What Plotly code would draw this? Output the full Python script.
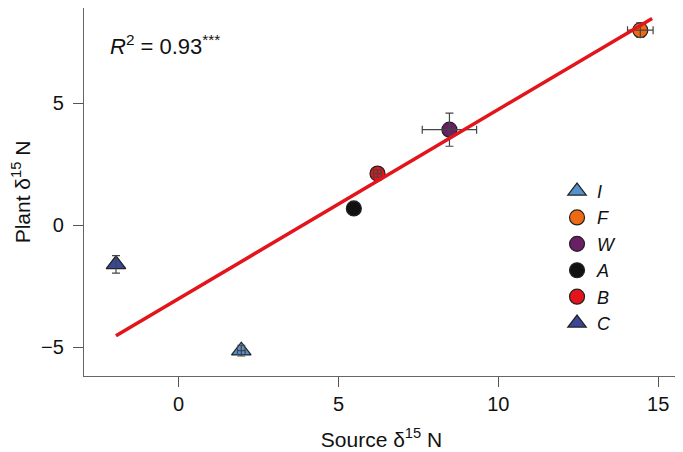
import plotly.graph_objects as go

names = ["I", "F", "W", "A", "B", "C"]
src = [1.96, 14.44, 8.47, 5.48, 6.22, -1.96]
plant = [-5.14, 8.0, 3.92, 0.69, 2.12, -1.6]
src_err = [0.12, 0.4, 0.85, 0.0, 0.12, 0.0]
plant_err = [0.22, 0.3, 0.68, 0.0, 0.15, 0.36]
colors = ["#5591cc", "#ee6a12", "#6a1e66", "#111111", "#e3151b", "#3a4796"]
symbols = ["triangle-up", "circle", "circle", "circle", "circle", "triangle-up"]
sizes = [17, 15, 15, 15, 15, 17]

fit_x = [-1.96, 14.81]
slope = 0.776
intercept = -3.01

FONT = "Liberation Sans, Arial, sans-serif"
fig = go.Figure()

for i, n in enumerate(names):
    fig.add_trace(go.Scatter(
        x=[src[i]], y=[plant[i]], mode="markers", name=f"<i>{n}</i>",
        legendgroup=n,
        marker=dict(color=colors[i], symbol=symbols[i], size=sizes[i],
                    line=dict(color="#222222", width=1.2)),
    ))
for i, n in enumerate(names):
    fig.add_trace(go.Scatter(
        x=[src[i]], y=[plant[i]], mode="markers", showlegend=False,
        marker=dict(size=1, opacity=0),
        error_x=dict(type="data", array=[src_err[i]], color="#444444", thickness=1.2, width=4, visible=src_err[i] > 0),
        error_y=dict(type="data", array=[plant_err[i]], color="#444444", thickness=1.2, width=4, visible=plant_err[i] > 0),
        hoverinfo="skip",
    ))

fig.add_trace(go.Scatter(
    x=fit_x, y=[slope * v + intercept for v in fit_x], mode="lines",
    line=dict(color="#e3151b", width=3.5), showlegend=False,
))

fig.add_annotation(
    x=0.04, y=0.90, xref="paper", yref="paper", xanchor="left", yanchor="middle",
    text="<i>R</i><sup>2</sup> = 0.93<sup>***</sup>", showarrow=False,
    font=dict(family=FONT, size=22, color="#111111"),
)

axis_common = dict(
    showgrid=False, zeroline=False, showline=True, mirror=True, automargin=False,
    linecolor="#666666", linewidth=1.2, ticks="outside", ticklen=10,
    tickcolor="#555555", tickwidth=1.2,
    tickfont=dict(family=FONT, size=20, color="#111111"),
)

fig.update_layout(
    width=675, height=444,
    margin=dict(l=76, r=4, t=0, b=76),
    plot_bgcolor="white", paper_bgcolor="white",
    xaxis=dict(range=[-2.96, 15.65], tickvals=[0, 5, 10, 15], ticktext=["0", "5", "10", "15"],
               title=dict(text="Source δ<sup>15</sup> N", font=dict(family=FONT, size=21, color="#111111"), standoff=18),
               **axis_common),
    yaxis=dict(range=[-6.18, 8.91], tickvals=[-5, 0, 5], ticktext=["−5", "0", "5"],
               ticklabelstandoff=5,
               title=dict(text="Plant δ<sup>15</sup> N", font=dict(family=FONT, size=21, color="#111111"), standoff=17),
               **axis_common),
    legend=dict(x=0.795, y=0.552, xanchor="left", yanchor="top", bgcolor="rgba(0,0,0,0)",
                font=dict(family=FONT, size=18, color="#111111"),
                traceorder="grouped", tracegroupgap=0, itemsizing="trace"),
)

fig.write_html("out.html")
